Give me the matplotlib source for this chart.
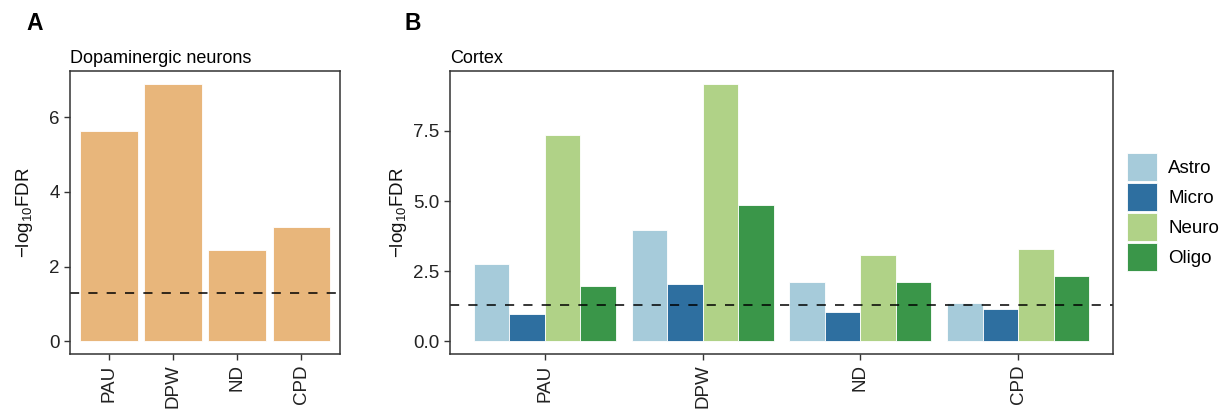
import matplotlib
matplotlib.use("Agg")
import matplotlib.pyplot as plt
import matplotlib.patches as mpatches
import numpy as np

plt.rcParams['font.family'] = ['Liberation Sans', 'DejaVu Sans']
plt.rcParams['mathtext.default'] = 'regular'

# data
diseases = ["PAU", "DPW", "ND", "CPD"]
da_fdr = [5.63, 6.90, 2.45, 3.05]

cell_types = ["Astro", "Micro", "Neuro", "Oligo"]
astro = [2.77, 3.96, 2.10, 1.36]
micro = [0.96, 2.05, 1.03, 1.13]
neuro = [7.37, 9.18, 3.07, 3.29]
oligo = [1.98, 4.86, 2.10, 2.34]
cortex_fdr = [astro, micro, neuro, oligo]

threshold = -np.log10(0.05)

orange = "#E8B67B"
pal = ["#A6CBDA", "#2E6FA0", "#B0D287", "#3A9649"]
spine_col = "#333333"

W, H = 1222, 411
fig = plt.figure(figsize=(W / 100, H / 100), dpi=100)

def px_axes(l, t, r, b):
    return fig.add_axes([l / W, (H - b) / H, (r - l) / W, (b - t) / H])

def style(ax, pad):
    for s in ax.spines.values():
        s.set_color(spine_col)
        s.set_linewidth(1.1)
    ax.tick_params(direction="out", length=4, width=1, color=spine_col,
                   labelsize=13.5, labelcolor="#222222")
    ax.set_ylabel("$-$log$_{10}$FDR", fontsize=13.5, color="#111111", labelpad=pad)

x = np.arange(1, len(diseases) + 1)

# Panel A
axA = px_axes(70, 71, 340, 354)
axA.bar(x, da_fdr, width=0.9, color=orange, edgecolor="white", linewidth=0.6)
axA.axhline(threshold, color="black", linestyle=(0, (6, 6)), linewidth=1.1)
axA.set_xlim(0.4, 4.6)
axA.set_ylim(-0.05 * max(da_fdr), 1.05 * max(da_fdr))
axA.set_yticks([0, 2, 4, 6])
axA.set_xticks(x)
axA.set_xticklabels(diseases, rotation=90, va="top")
style(axA, 10)
axA.set_title("Dopaminergic neurons", loc="left", fontsize=13, pad=6)
fig.text(26 / W, 1 - 12 / H, "A", fontsize=16.5, fontweight="bold", va="top")

# Panel B
axB = px_axes(450, 71, 1113, 354)
bw = 0.9 / len(cell_types)
for i, (vals, c) in enumerate(zip(cortex_fdr, pal)):
    axB.bar(x - 0.45 + bw * (i + 0.5), vals, width=bw, color=c,
            edgecolor="white", linewidth=0.6, label=cell_types[i])
axB.axhline(threshold, color="black", linestyle=(0, (6, 6)), linewidth=1.1)
axB.set_xlim(0.4, 4.6)
ymax = max(max(v) for v in cortex_fdr)
axB.set_ylim(-0.05 * ymax, 1.05 * ymax)
axB.set_yticks([0, 2.5, 5, 7.5])
axB.set_yticklabels(["0.0", "2.5", "5.0", "7.5"])
axB.set_xticks(x)
axB.set_xticklabels(diseases, rotation=90, va="top")
style(axB, 3)
axB.set_title("Cortex", loc="left", fontsize=13, pad=6)
fig.text(404 / W, 1 - 12 / H, "B", fontsize=16.5, fontweight="bold", va="top")

handles = [mpatches.Patch(facecolor=c, edgecolor="white", linewidth=0.6) for c in pal]
fig.legend(handles, cell_types, loc="center left",
           bbox_to_anchor=(1127 / W, 1 - 212 / H), frameon=False,
           fontsize=13.5, handlelength=1.6, handleheight=1.9,
           labelspacing=0.12, handletextpad=0.6, borderaxespad=0,
           borderpad=0)

fig.savefig("out.png", dpi=100)
